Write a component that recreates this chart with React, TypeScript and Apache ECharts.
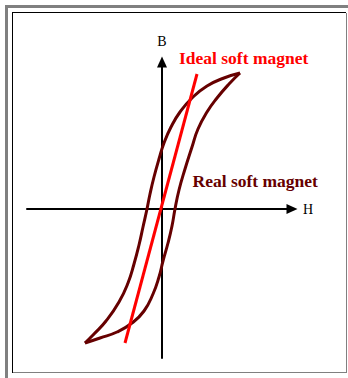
import React, { useEffect, useRef } from "react";
import * as echarts from "echarts";

// Hysteresis loop, H (x) and B (y) in arbitrary units
const descendingBranch: [number, number][] = [
  [78, 136], [62, 131], [45, 123], [30, 111], [18, 97], [9, 82], [2, 66],
  [-3, 50], [-8, 32], [-12, 15], [-15, 0], [-19, -18], [-23, -36],
  [-28, -55], [-34, -74], [-43, -93], [-56, -112], [-68, -125], [-77, -134],
];
const ascendingBranch: [number, number][] = [
  [-77, -134], [-62, -129], [-45, -123], [-30, -114], [-18, -102], [-9, -85],
  [-3, -68], [1, -52], [6, -34], [10, -17], [13, 0], [17, 19], [23, 40],
  [30, 62], [36, 80], [45, 97], [55, 111], [67, 125], [78, 136],
];
const idealLine: [number, number][] = [
  [35, 135], [-37, -134],
];
const axisNames = ["H", "B"];
const annotationTexts = ["Ideal soft magnet", "Real soft magnet"];

const LOOP_COLOR = "#660000";
const IDEAL_COLOR = "#ff0000";

export default function App() {
  const ref = useRef<HTMLDivElement>(null);
  useEffect(() => {
    const chart = echarts.init(ref.current!, null, { renderer: "svg" });
    const axisCommon = {
      type: "value",
      axisLine: {
        show: true,
        onZero: true,
        lineStyle: { color: "#000", width: 2 },
        symbol: ["none", "triangle"],
        symbolSize: [10, 11],
      },
      axisTick: { show: false },
      axisLabel: { show: false },
      splitLine: { show: false },
      nameLocation: "end",
      nameTextStyle: {
        fontFamily: "Liberation Serif",
        fontSize: 14,
        color: "#000",
      },
    };
    const loopStyle = {
      type: "line",
      smooth: 0.5,
      symbol: "none",
      lineStyle: { color: LOOP_COLOR, width: 3 },
    };
    chart.setOption({
      animation: false,
      backgroundColor: "#fff",
      grid: {
        left: 27,
        right: 56,
        top: 62,
        bottom: 20,
        containLabel: false,
        outerBoundsMode: "none",
      },
      xAxis: {
        ...axisCommon,
        min: -135,
        max: 130,
        name: axisNames[0],
        nameGap: 11,
      },
      yAxis: {
        ...axisCommon,
        min: -149,
        max: 147,
        name: axisNames[1],
        nameGap: 14,
      },
      series: [
        { ...loopStyle, data: descendingBranch },
        { ...loopStyle, data: ascendingBranch },
        {
          type: "line",
          data: idealLine,
          symbol: "none",
          lineStyle: { color: IDEAL_COLOR, width: 3 },
        },
      ],
      graphic: [
        // outer grey frame (top and left)
        { type: "rect", shape: { x: 5, y: 5, width: 343, height: 3 }, style: { fill: "#808080" } },
        { type: "rect", shape: { x: 5, y: 5, width: 3, height: 373 }, style: { fill: "#808080" } },
        // inner frame
        { type: "line", shape: { x1: 12, y1: 12.5, x2: 346, y2: 12.5 }, style: { stroke: "#000", lineWidth: 1 } },
        { type: "line", shape: { x1: 12.5, y1: 12, x2: 12.5, y2: 373 }, style: { stroke: "#000", lineWidth: 1 } },
        { type: "line", shape: { x1: 346.5, y1: 13, x2: 346.5, y2: 373 }, style: { stroke: "#808080", lineWidth: 1 } },
        { type: "line", shape: { x1: 13, y1: 372.5, x2: 346, y2: 372.5 }, style: { stroke: "#808080", lineWidth: 1 } },
        {
          type: "text",
          x: 179,
          y: 58.2,
          style: {
            text: annotationTexts[0],
            fill: IDEAL_COLOR,
            fontFamily: "Liberation Serif",
            fontWeight: "bold",
            fontSize: 17.5,
            verticalAlign: "middle",
            align: "left",
          },
        },
        {
          type: "text",
          x: 192.5,
          y: 181.2,
          style: {
            text: annotationTexts[1],
            fill: LOOP_COLOR,
            fontFamily: "Liberation Serif",
            fontWeight: "bold",
            fontSize: 17.5,
            verticalAlign: "middle",
            align: "left",
          },
        },
      ],
    });
    return () => chart.dispose();
  }, []);
  return (
    <div
      ref={ref}
      style={{ position: "fixed", left: 0, top: 0, width: 348, height: 378, background: "#fff" }}
    />
  );
}
